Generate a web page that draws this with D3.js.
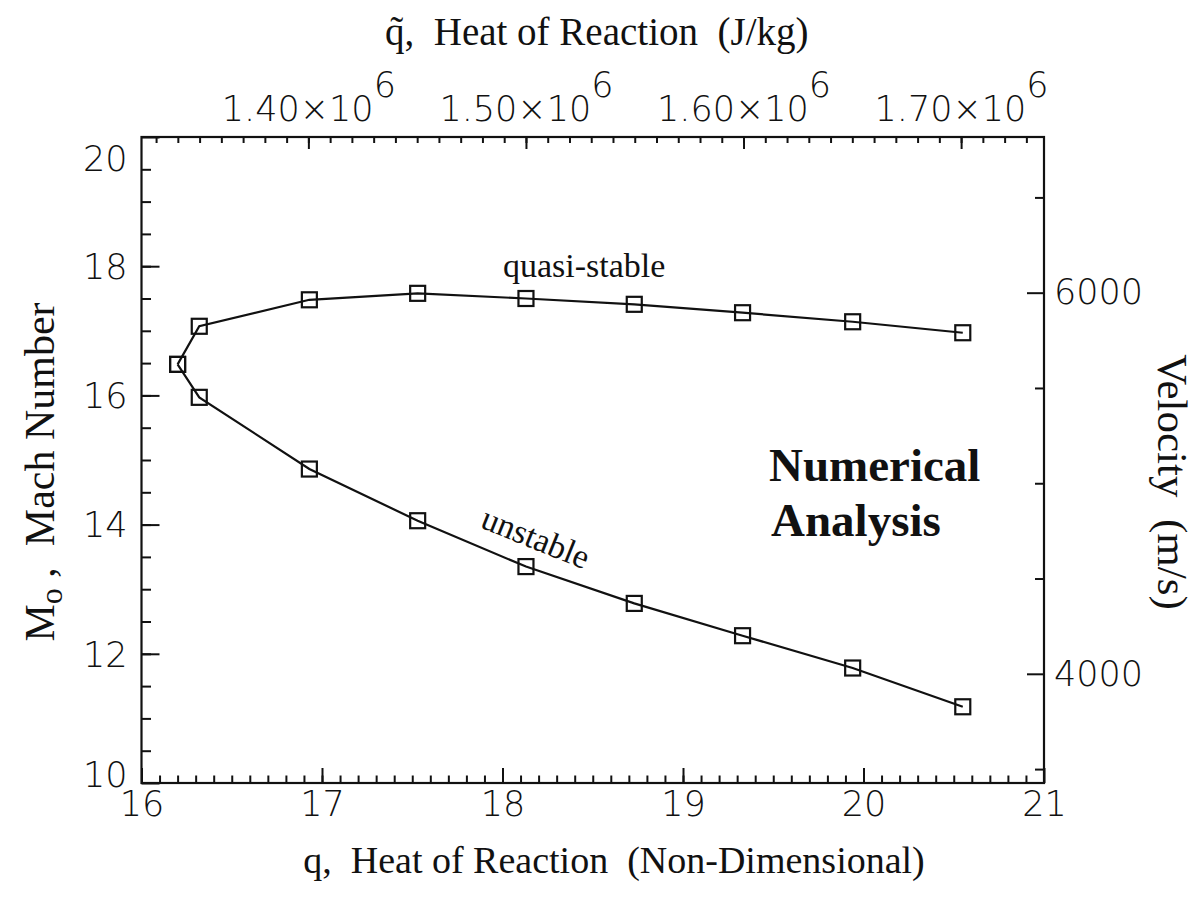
<!DOCTYPE html>
<html>
<head>
<meta charset="utf-8">
<script src="https://cdn.jsdelivr.net/npm/d3@7.9.0/dist/d3.min.js"></script>
<style>
  html, body { margin: 0; padding: 0; background: #fff; }
  svg { display: block; }
  .tick text { font-family: "DejaVu Sans", "Liberation Sans", sans-serif; font-weight: 200; font-size: 35px; fill: #111; }
  .serif { font-family: "Liberation Serif", "Times New Roman", serif; fill: #111; white-space: pre; }
</style>
</head>
<body>
<svg id="chart" width="1199" height="909"></svg>
<script>
// q (non-dimensional heat of reaction) and Mach number
const qUpper = [16.2, 16.32, 16.93, 17.53, 18.13, 18.73, 19.33, 19.94, 20.55];
const mUpper = [16.48, 17.07, 17.48, 17.58, 17.50, 17.41, 17.28, 17.14, 16.97];
const qLower = [16.2, 16.32, 16.93, 17.53, 18.13, 18.73, 19.33, 19.94, 20.55];
const mLower = [16.48, 15.97, 14.86, 14.06, 13.35, 12.78, 12.28, 11.78, 11.18];

// axis extents and tick values
const qDomain = [16, 21];
const machDomain = [10, 20];
const heatDomain = [1.3233e6, 1.7381e6];   // J/kg matching q = 16..21
const velocityDomain = [3427, 6817];       // m/s matching M = 10..20
const qMajor = [16, 17, 18, 19, 20, 21];
const machMajor = [10, 12, 14, 16, 18, 20];
const heatMajor = [1.40e6, 1.50e6, 1.60e6, 1.70e6];
const velocityMajor = [4000, 6000];
const velocityMinor = [3500, 4500, 5000, 5500, 6500];

const svg = d3.select('#chart');
const plotLeft = 141.5, plotRight = 1044, plotTop = 137, plotBottom = 783;

const x = d3.scaleLinear().domain(qDomain).range([plotLeft, plotRight]);
const y = d3.scaleLinear().domain(machDomain).range([plotBottom, plotTop]);
const xTop = d3.scaleLinear().domain(heatDomain).range([plotLeft, plotRight]);
const yRight = d3.scaleLinear().domain(velocityDomain).range([plotBottom, plotTop]);

function cleanAxis(g) {
  g.select('.domain').remove();
  g.selectAll('.tick line').attr('stroke', '#111').attr('stroke-width', 2);
}

// bottom axis (ticks point inward)
svg.append('g')
  .attr('transform', `translate(0,${plotBottom})`)
  .call(d3.axisBottom(x).tickValues(d3.range(16.1, 21, 0.1)).tickSize(-7.5).tickFormat(''))
  .call(cleanAxis);
svg.append('g')
  .attr('transform', `translate(0,${plotBottom})`)
  .call(d3.axisBottom(x).tickValues(qMajor).tickSize(-15).tickPadding(8).tickFormat(d3.format('d')))
  .call(cleanAxis);

// left axis
svg.append('g')
  .attr('transform', `translate(${plotLeft},0)`)
  .call(d3.axisLeft(y).tickValues(d3.range(10.5, 20, 0.5)).tickSize(-9.5).tickFormat(''))
  .call(cleanAxis);
const leftAxis = svg.append('g')
  .attr('transform', `translate(${plotLeft},0)`)
  .call(d3.axisLeft(y).tickValues(machMajor).tickSize(-18).tickPadding(14).tickFormat(d3.format('d')))
  .call(cleanAxis);
leftAxis.selectAll('.tick text')
  .attr('dy', d => d === 20 ? '0.95em' : d === 10 ? '0.1em' : '0.35em');

// right axis
svg.append('g')
  .attr('transform', `translate(${plotRight},0)`)
  .call(d3.axisRight(yRight).tickValues(velocityMinor).tickSize(-9).tickFormat(''))
  .call(cleanAxis);
svg.append('g')
  .attr('transform', `translate(${plotRight},0)`)
  .call(d3.axisRight(yRight).tickValues(velocityMajor).tickSize(-17).tickPadding(10).tickFormat(d3.format('d')))
  .call(cleanAxis);

// top axis
svg.append('g')
  .attr('transform', `translate(0,${plotTop})`)
  .call(d3.axisTop(xTop).tickValues(d3.range(1.33e6, 1.738e6, 1e4)).tickSize(-6).tickFormat(''))
  .call(cleanAxis);
const topAxis = svg.append('g')
  .attr('transform', `translate(0,${plotTop})`)
  .call(d3.axisTop(xTop).tickValues(heatMajor).tickSize(-12).tickFormat(''))
  .call(cleanAxis);
topAxis.selectAll('.tick').append('text')
  .attr('y', -16)
  .attr('text-anchor', 'middle')
  .each(function (d) {
    const t = d3.select(this);
    t.append('tspan').text(d3.format('.2f')(d / 1e6) + '×10');
    t.append('tspan').attr('dy', -24).text('6');
  });

// frame
svg.append('rect')
  .attr('x', plotLeft).attr('y', plotTop)
  .attr('width', plotRight - plotLeft).attr('height', plotBottom - plotTop)
  .attr('fill', 'none').attr('stroke', '#111').attr('stroke-width', 2.2);

// curves
const line = d3.line().x(d => x(d[0])).y(d => y(d[1]));
const upper = qUpper.map((q, i) => [q, mUpper[i]]);
const lower = qLower.map((q, i) => [q, mLower[i]]);

[upper, lower].forEach(series => {
  svg.append('path')
    .datum(series)
    .attr('d', line)
    .attr('fill', 'none')
    .attr('stroke', '#111')
    .attr('stroke-width', 2.2);
  svg.selectAll(null)
    .data(series)
    .enter()
    .append('rect')
    .attr('x', d => x(d[0]) - 7.5)
    .attr('y', d => y(d[1]) - 7.5)
    .attr('width', 15)
    .attr('height', 15)
    .attr('fill', 'none')
    .attr('stroke', '#111')
    .attr('stroke-width', 2.2);
});

// titles
svg.append('text').attr('class', 'serif')
  .attr('x', 385).attr('y', 45)
  .attr('font-size', 39)
  .text('q\u0303,  Heat of Reaction  (J/kg)');

svg.append('text').attr('class', 'serif')
  .attr('x', 614).attr('y', 873)
  .attr('text-anchor', 'middle')
  .attr('font-size', 38)
  .text('q,  Heat of Reaction  (Non-Dimensional)');

const yTitle = svg.append('text').attr('class', 'serif')
  .attr('transform', 'translate(54,472) rotate(-90)')
  .attr('text-anchor', 'middle')
  .attr('font-size', 42);
yTitle.append('tspan').text('M');
yTitle.append('tspan').attr('dy', 8).attr('font-size', 32).text('o');
yTitle.append('tspan').attr('dy', -8).text(' ,  Mach Number');

svg.append('text').attr('class', 'serif')
  .attr('transform', 'translate(1158,482) rotate(90)')
  .attr('text-anchor', 'middle')
  .attr('font-size', 43)
  .text('Velocity  (m/s)');

// annotations
svg.append('text').attr('class', 'serif')
  .attr('x', 503).attr('y', 277)
  .attr('font-size', 34)
  .text('quasi-stable');
svg.append('text').attr('class', 'serif')
  .attr('transform', 'translate(479,527) rotate(22)')
  .attr('font-size', 34)
  .text('unstable');

svg.append('text').attr('class', 'serif')
  .attr('x', 769).attr('y', 481)
  .attr('font-size', 47).attr('font-weight', 'bold')
  .text('Numerical');
svg.append('text').attr('class', 'serif')
  .attr('x', 771).attr('y', 536)
  .attr('font-size', 47).attr('font-weight', 'bold')
  .text('Analysis');
</script>
</body>
</html>
